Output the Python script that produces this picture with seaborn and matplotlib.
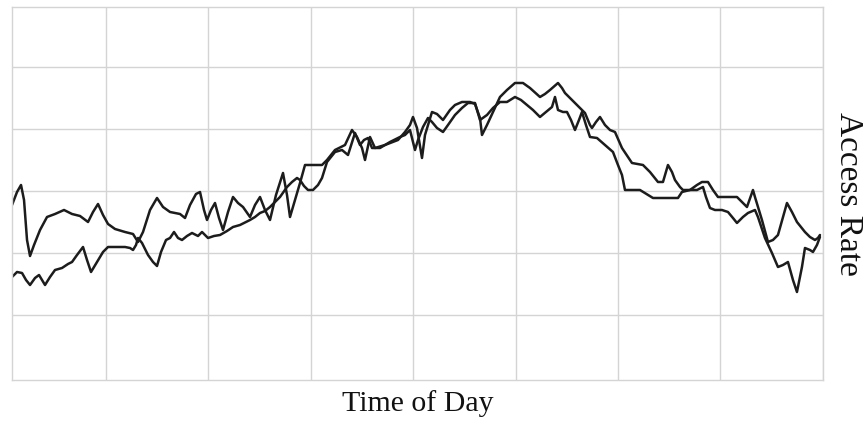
import numpy as np
import pandas as pd
import seaborn as sns
import matplotlib
matplotlib.use("Agg")
import matplotlib.pyplot as plt

# time steps (arbitrary units across the day) and access rate for the two traces
time_a = [0, 5, 9, 12, 15, 18, 22, 28, 35, 43, 52, 60, 68, 76, 81, 86, 91, 96, 103, 113,
          121, 126, 131, 138, 145, 151, 158, 168, 173, 178, 184, 188, 192, 195, 199, 203, 207, 211, 216, 221,
          226, 231, 238, 243, 248, 253, 258, 264, 271, 275, 278, 283, 288, 293, 302, 310, 315, 323, 333, 340,
          345, 350, 353, 358, 363, 373, 386, 393, 398, 401, 405, 410, 413, 420, 425, 431, 438, 443, 450, 458,
          463, 468, 470, 475, 481, 488, 495, 503, 511, 518, 528, 533, 538, 546, 550, 553, 558, 565, 573, 578,
          580, 584, 588, 593, 598, 603, 610, 620, 631, 638, 646, 651, 656, 660, 663, 668, 671, 678, 685, 690,
          696, 701, 706, 725, 735, 741, 743, 750, 756, 761, 766, 775, 780, 785, 793, 798, 803, 806, 808]
rate_a = [175, 188, 195, 180, 140, 124, 135, 150, 163, 166, 170, 166, 164, 158, 168, 176, 165, 156, 151, 148,
          146, 138, 148, 170, 182, 173, 168, 166, 162, 175, 186, 188, 170, 160, 170, 177, 162, 150, 168, 183,
          177, 173, 163, 175, 183, 170, 160, 185, 207, 185, 163, 180, 197, 215, 215, 215, 220, 230, 235, 250,
          243, 232, 220, 243, 232, 235, 240, 248, 255, 263, 252, 222, 245, 268, 266, 260, 270, 275, 278, 278,
          276, 262, 245, 255, 268, 283, 290, 297, 297, 292, 283, 286, 290, 297, 292, 287, 282, 275, 267, 255,
          252, 258, 263, 255, 250, 248, 232, 217, 215, 208, 198, 198, 215, 208, 200, 193, 190, 190, 195, 198,
          198, 190, 183, 183, 173, 190, 183, 160, 138, 140, 145, 177, 168, 158, 148, 143, 140, 142, 145]

time_b = [0, 5, 10, 14, 18, 23, 27, 30, 33, 38, 43, 50, 56, 60, 65, 71, 75, 79, 85, 91,
          96, 103, 113, 118, 121, 124, 126, 130, 136, 141, 145, 149, 154, 158, 162, 166, 170, 175, 180, 186,
          190, 196, 202, 208, 215, 221, 228, 238, 243, 248, 253, 258, 263, 268, 275, 280, 285, 288, 292, 296,
          301, 306, 310, 315, 323, 330, 336, 343, 348, 352, 356, 360, 368, 378, 388, 393, 398, 403, 406, 411,
          416, 420, 425, 431, 436, 443, 450, 456, 463, 468, 475, 481, 488, 495, 503, 509, 515, 521, 528, 534,
          540, 543, 546, 551, 555, 559, 563, 567, 570, 574, 578, 585, 593, 601, 606, 610, 613, 620, 628, 641,
          653, 666, 670, 678, 685, 691, 694, 698, 703, 710, 716, 721, 725, 731, 736, 743, 746, 753, 760, 766,
          771, 776, 781, 785, 790, 793, 798, 801, 805, 808]
rate_b = [103, 108, 107, 100, 95, 102, 105, 100, 95, 103, 110, 112, 116, 118, 125, 133, 120, 108, 118, 128,
          133, 133, 133, 132, 130, 135, 142, 137, 125, 118, 114, 128, 140, 142, 148, 142, 140, 144, 147, 144,
          148, 142, 144, 145, 149, 153, 155, 160, 163, 167, 169, 173, 178, 183, 193, 198, 202, 200, 194, 190,
          190, 195, 202, 218, 228, 230, 225, 247, 235, 240, 242, 232, 232, 238, 243, 245, 250, 230, 240, 253,
          262, 258, 252, 248, 255, 265, 272, 277, 277, 260, 265, 272, 278, 278, 283, 280, 275, 270, 263, 268,
          273, 283, 270, 268, 268, 260, 250, 260, 268, 255, 243, 242, 235, 228, 215, 205, 190, 190, 190, 182,
          182, 182, 188, 190, 190, 193, 183, 172, 170, 170, 168, 162, 157, 163, 167, 170, 163, 142, 127, 113,
          115, 118, 100, 88, 113, 132, 130, 128, 135, 143]

df = pd.concat([
    pd.DataFrame({"time": time_a, "rate": rate_a, "trace": "a"}),
    pd.DataFrame({"time": time_b, "rate": rate_b, "trace": "b"}),
], ignore_index=True)

sns.set_style("white")
plt.rcParams["font.family"] = ["Liberation Serif", "DejaVu Serif"]

fig = plt.figure(figsize=(8.65, 4.21), dpi=100)
ax = fig.add_axes([0.0139, 0.0974, 0.9375, 0.886])

sns.lineplot(data=df, x="time", y="rate", units="trace", estimator=None, sort=False,
             color="#1c1c1c", linewidth=1.8, ax=ax)

ax.set_xlim(0, 811)
ax.set_ylim(0, 373)
ax.set_xticks(np.arange(94, 811, 102.4))
ax.set_yticks(np.arange(65, 373, 62))
ax.grid(True, color="#d4d4d4", linewidth=1.0)
ax.tick_params(length=0, labelbottom=False, labelleft=False)
for s in ax.spines.values():
    s.set_color("#d4d4d4")
    s.set_linewidth(1.0)

ax.set_xlabel("Time of Day", fontsize=21.5, labelpad=7, color="#111111")
ax.yaxis.set_label_position("right")
ax.set_ylabel("Access Rate", fontsize=24, rotation=270, labelpad=29, color="#111111")

fig.savefig("out.png", dpi=100)
